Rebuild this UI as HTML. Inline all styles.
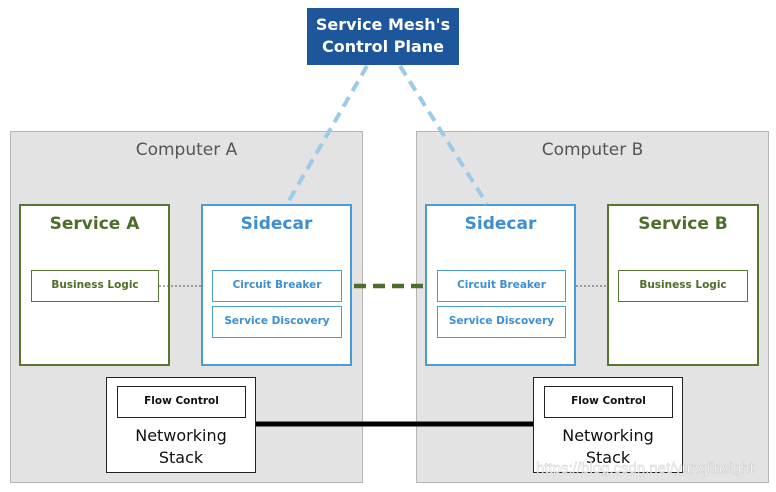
<!DOCTYPE html>
<html><head><style>
body{margin:0;width:776px;height:492px;background:#fff;position:relative;overflow:hidden;font-family:"DejaVu Sans","Liberation Sans",sans-serif}
div.b{position:absolute;box-sizing:border-box;text-align:center}
.comp{background:#e3e3e3;border:1px solid #b5b5b5;color:#555;font-size:17px;padding-top:8px}
.svc{background:#fff;border:2px solid #5a7530;color:#4f6d2a;font-size:17px;font-weight:bold;padding-top:8px}
.sc{background:#fff;border:2px solid #4d9ad8;color:#3c8fd2;font-size:17px;font-weight:bold;padding-top:8px}
.in{font-size:10.5px;font-weight:bold;line-height:29px}
.bl{border:1px solid #5a7530;color:#4f6d2a;background:#fff}
.cb{border:1px solid #4d9ad8;color:#3c8fd2;background:#fff}
.net{background:#fff;border:1px solid #222;color:#111;font-size:16px;line-height:22px;padding-top:47px}
.fc{border:1px solid #222;color:#111;background:#fff}
</style></head><body>
<div class="b comp" style="left:10px;top:131px;width:353px;height:352px">Computer A</div>
<div class="b comp" style="left:416px;top:131px;width:353px;height:352px">Computer B</div>
<div class="b" style="left:307px;top:8px;width:152px;height:57px;background:#1e569b;color:#fff;font-size:16px;font-weight:bold;line-height:22px;padding-top:6px">Service Mesh's<br>Control Plane</div>
<div class="b svc" style="left:19px;top:204px;width:151px;height:162px">Service A</div>
<div class="b sc" style="left:201px;top:204px;width:151px;height:162px">Sidecar</div>
<div class="b sc" style="left:425px;top:204px;width:151px;height:162px">Sidecar</div>
<div class="b svc" style="left:607px;top:204px;width:152px;height:162px">Service B</div>
<div class="b in bl" style="left:31px;top:270px;width:128px;height:32px">Business Logic</div>
<div class="b in bl" style="left:618px;top:270px;width:130px;height:32px">Business Logic</div>
<div class="b in cb" style="left:212px;top:270px;width:130px;height:32px">Circuit Breaker</div>
<div class="b in cb" style="left:212px;top:306px;width:130px;height:32px">Service Discovery</div>
<div class="b in cb" style="left:437px;top:270px;width:129px;height:32px">Circuit Breaker</div>
<div class="b in cb" style="left:437px;top:306px;width:129px;height:32px">Service Discovery</div>
<div class="b net" style="left:106px;top:377px;width:150px;height:96px">Networking<br>Stack</div>
<div class="b net" style="left:533px;top:377px;width:150px;height:96px">Networking<br>Stack</div>
<div class="b in fc" style="left:117px;top:386px;width:129px;height:32px">Flow Control</div>
<div class="b in fc" style="left:544px;top:386px;width:129px;height:32px">Flow Control</div>
<svg width="776" height="492" style="position:absolute;left:0;top:0">
<line x1="367" y1="66" x2="287" y2="204" stroke="#9ccbe8" stroke-width="4" stroke-dasharray="11,7"/>
<line x1="400" y1="66" x2="487" y2="204" stroke="#9ccbe8" stroke-width="4" stroke-dasharray="11,7"/>
<line x1="354" y1="286" x2="424" y2="286" stroke="#4f6d2a" stroke-width="4.5" stroke-dasharray="12,7"/>
<line x1="159" y1="286" x2="201" y2="286" stroke="#555" stroke-width="1" stroke-dasharray="2,2"/>
<line x1="576" y1="286" x2="607" y2="286" stroke="#555" stroke-width="1" stroke-dasharray="2,2"/>
<line x1="256" y1="424" x2="533" y2="424" stroke="#000" stroke-width="5"/>
<text x="536" y="473" font-family="Liberation Sans" font-size="15" fill="#fff" stroke="#bbb" stroke-width="0.4" opacity="0.9">https://blog.csdn.net/yunqiinsight</text>
</svg>
</body></html>
